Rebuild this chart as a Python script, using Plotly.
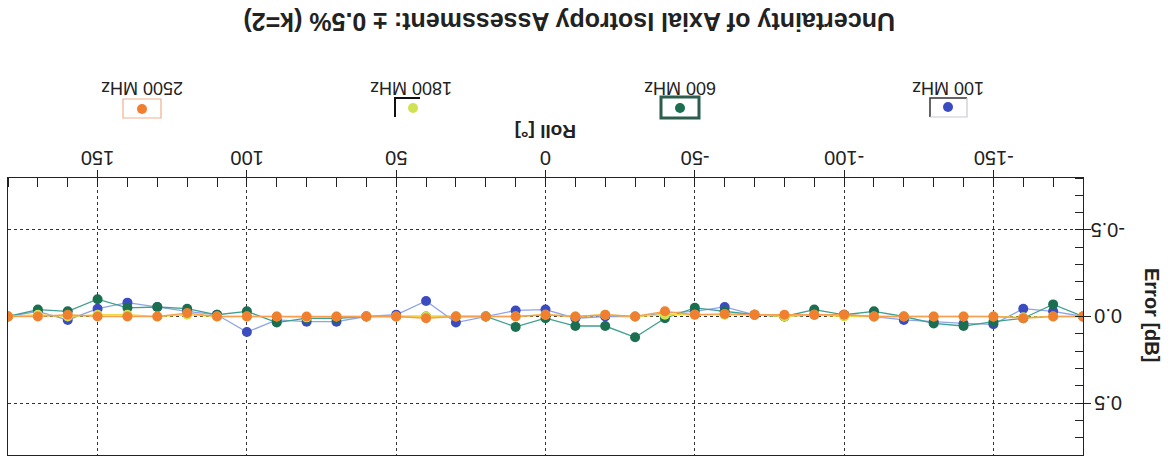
import plotly.graph_objects as go

# Roll angles (degrees) and measured isotropy error (dB) per frequency
roll_deg = [180, 170, 160, 150, 140, 130, 120, 110, 100, 90, 80, 70, 60, 50, 40, 30, 20, 10, 0,
            -10, -20, -30, -40, -50, -60, -70, -80, -90, -100, -110, -120, -130, -140, -150,
            -160, -170, -180]

err_100mhz = [0.0, -0.03, 0.02, -0.045, -0.08, -0.055, -0.03, -0.01, 0.09, 0.02, 0.03, 0.03, 0.0,
              -0.01, -0.09, 0.035, 0.0, -0.035, -0.04, 0.01, 0.0, 0.0, -0.02, -0.03, -0.055, -0.01,
              0.0, -0.01, -0.01, 0.0, 0.02, 0.03, 0.04, 0.045, -0.045, -0.03, 0.0]

err_600mhz = [0.0, -0.04, -0.03, -0.10, -0.05, -0.055, -0.045, -0.01, -0.03, 0.035, 0.01, 0.01, 0.0,
              0.0, 0.0, 0.0, 0.0, 0.06, 0.01, 0.055, 0.055, 0.12, 0.01, -0.05, -0.03, -0.01, 0.0,
              -0.04, -0.01, -0.03, 0.0, 0.04, 0.055, 0.03, 0.01, -0.07, 0.0]

err_1800mhz = [0.0, -0.01, 0.0, -0.01, -0.01, 0.0, -0.01, 0.0, 0.0, 0.0, 0.005, 0.0, 0.0, 0.0, 0.0,
               0.0, 0.0, 0.0, -0.01, 0.0, -0.01, 0.0, -0.01, -0.01, -0.01, -0.01, 0.0, -0.01, 0.0,
               0.0, 0.0, 0.0, 0.0, 0.0, 0.005, 0.0, 0.0]

err_2500mhz = [0.0, 0.0, -0.01, 0.0, 0.0, 0.0, -0.02, 0.0, 0.0, 0.0, 0.0, 0.0, 0.0, 0.0, 0.01, 0.0,
               0.0, 0.0, -0.01, 0.0, -0.01, 0.0, -0.03, -0.01, -0.015, -0.01, -0.01, -0.01, -0.01,
               0.0, 0.0, 0.0, 0.0, 0.0, 0.01, 0.0, 0.0]

series_names = ["100 MHz", "600 MHz", "1800 MHz", "2500 MHz"]
series_values = [err_100mhz, err_600mhz, err_1800mhz, err_2500mhz]
marker_colors = ["#3b4cc0", "#1b6e50", "#d2e150", "#f08030"]
line_colors = ["#8fa4e8", "#3f9f90", "#f0d840", "#f5a050"]

x_ticks = [-150, -100, -50, 0, 50, 100, 150]
x_tick_labels = ["-150", "-100", "-50", "0", "50", "100", "150"]
y_ticks = [-0.5, 0.0, 0.5]
y_tick_labels = ["-0.5", "0.0", "0.5"]

title_text = "Uncertainty of Axial Isotropy Assessment: \u00b1 0.5% (k=2)"

W, H = 1170, 459
PL, PR, PT, PB = 8, 1083, 178, 455


def fx(px):
    return (px - PL) / (PR - PL)


def fy(py):
    return (PB - py) / (PB - PT)


FONT = "Liberation Sans, Arial, sans-serif"
INK = "#222"

fig = go.Figure()
for name, vals, mc, lc in zip(series_names, series_values, marker_colors, line_colors):
    fig.add_trace(go.Scatter(
        x=roll_deg, y=vals, mode="lines+markers", name=name,
        line=dict(color=lc, width=1.3),
        marker=dict(color=mc, size=10),
        showlegend=False,
    ))

axis_common = dict(
    showline=True, linecolor=INK, linewidth=1.2, mirror=True,
    showgrid=True, gridcolor="#333", griddash="dot", gridwidth=1.3,
    zeroline=False, ticks="outside", ticklen=7, tickcolor=INK,
    showticklabels=False,
)

fig.update_xaxes(
    range=[180, -180], side="top", tickvals=x_ticks,
    minor=dict(dtick=10, tick0=0, ticks="inside", ticklen=9, tickcolor=INK, showgrid=False),
    **axis_common,
)
fig.update_yaxes(
    range=[0.8, -0.8], side="right", tickvals=y_ticks,
    minor=dict(dtick=0.1, tick0=0, ticks="inside", ticklen=8, tickcolor=INK, showgrid=False),
    **axis_common,
)

ann = []
# upside-down tick labels
for v, t in zip(x_ticks, x_tick_labels):
    ann.append(dict(text=t, x=v, y=fy(158), xref="x", yref="paper", showarrow=False,
                    textangle=180, font=dict(family=FONT, size=20, color=INK),
                    xanchor="center", yanchor="middle"))
for v, t in zip(y_ticks, y_tick_labels):
    ann.append(dict(text=t, x=fx(1108), y=v, xref="paper", yref="y", showarrow=False,
                    textangle=180, font=dict(family=FONT, size=20, color=INK),
                    xanchor="center", yanchor="middle"))

ann.append(dict(text="<b>" + title_text + "</b>", x=fx(569), y=fy(22), xref="paper", yref="paper",
                showarrow=False, textangle=180, font=dict(family=FONT, size=25, color=INK),
                xanchor="center", yanchor="middle"))
ann.append(dict(text="<b>Roll [\u00b0]</b>", x=fx(546), y=fy(132), xref="paper", yref="paper",
                showarrow=False, textangle=180, font=dict(family=FONT, size=19, color=INK),
                xanchor="center", yanchor="middle"))
ann.append(dict(text="<b>Error [dB]</b>", x=fx(1152), y=fy(315), xref="paper", yref="paper",
                showarrow=False, textangle=90, font=dict(family=FONT, size=20, color=INK),
                xanchor="center", yanchor="middle"))

legend_cx = [948, 680, 411, 142]
for name, cx in zip(series_names, legend_cx):
    ann.append(dict(text=name, x=fx(cx), y=fy(88), xref="paper", yref="paper",
                    showarrow=False, textangle=180, font=dict(family=FONT, size=18, color=INK),
                    xanchor="center", yanchor="middle"))

shapes = []
# legend frames
# 100 MHz: dark top/left, light bottom/right
shapes.append(dict(type="path", xref="paper", yref="paper",
                   path=f"M {fx(930)},{fy(117)} L {fx(930)},{fy(98)} L {fx(967)},{fy(98)}",
                   line=dict(color="#333", width=1.5)))
shapes.append(dict(type="path", xref="paper", yref="paper",
                   path=f"M {fx(967)},{fy(98)} L {fx(967)},{fy(117)} L {fx(930)},{fy(117)}",
                   line=dict(color="#c8c8d8", width=1.2)))
# 600 MHz: heavy green frame
shapes.append(dict(type="rect", xref="paper", yref="paper",
                   x0=fx(661), x1=fx(699), y0=fy(97), y1=fy(118),
                   line=dict(color="#2d5e4c", width=3)))
# 1800 MHz: black corner bracket
shapes.append(dict(type="path", xref="paper", yref="paper",
                   path=f"M {fx(395)},{fy(117)} L {fx(395)},{fy(98)} L {fx(420)},{fy(98)}",
                   line=dict(color="#111", width=2)))
# 2500 MHz: light orange frame
shapes.append(dict(type="rect", xref="paper", yref="paper",
                   x0=fx(123), x1=fx(161), y0=fy(99), y1=fy(118),
                   line=dict(color="#f2b08a", width=1.2)))

marker_pos = [(948, 107), (680, 108), (413, 108), (142, 109)]
for (cx, cy), mc in zip(marker_pos, marker_colors):
    r = 5
    shapes.append(dict(type="circle", xref="paper", yref="paper",
                       x0=fx(cx - r), x1=fx(cx + r), y0=fy(cy + r), y1=fy(cy - r),
                       fillcolor=mc, line=dict(color=mc, width=0)))

fig.update_layout(
    width=W, height=H,
    margin=dict(l=PL, r=W - PR, t=PT, b=H - PB),
    paper_bgcolor="white", plot_bgcolor="white",
    annotations=ann, shapes=shapes, showlegend=False,
)

fig.write_html("out.html")
